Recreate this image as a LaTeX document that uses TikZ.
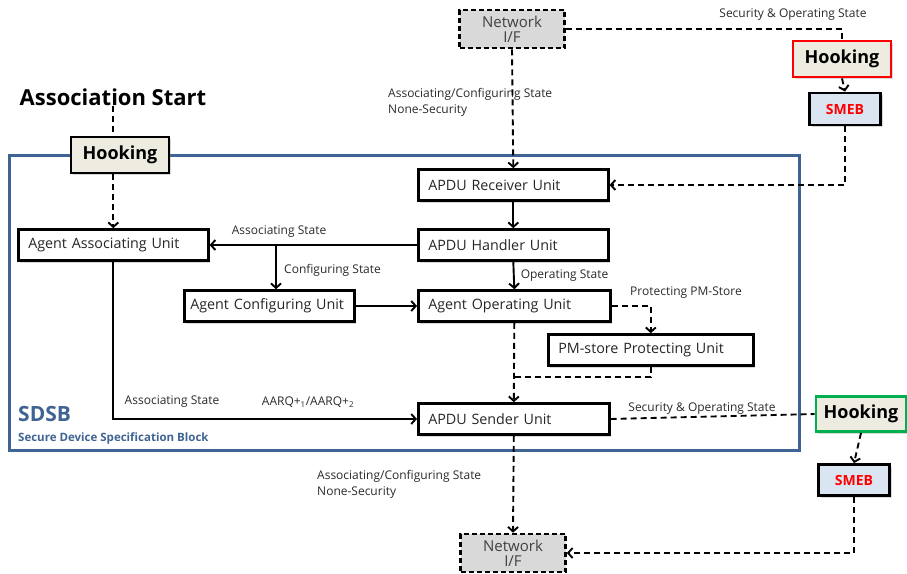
\documentclass[tikz,border=0pt]{standalone}
\usepackage{fontspec}
\setmainfont{Open Sans}
\usetikzlibrary{arrows.meta,shadows}
\definecolor{beige}{HTML}{EEECE1}
\definecolor{smebfill}{HTML}{DBE5F1}
\definecolor{netfill}{HTML}{D9D9D9}
\definecolor{framec}{HTML}{3F6393}
\definecolor{hookgreen}{HTML}{00B050}
\definecolor{labelc}{HTML}{2A2A2A}
\begin{document}
\begin{tikzpicture}[x=1pt,y=-1pt,
  shad/.style={drop shadow={opacity=0.3,shadow xshift=2pt,shadow yshift=-2pt}},
  unit/.style={draw=black,line width=2.6pt,fill=white,minimum height=31pt,inner xsep=10pt,inner ysep=0pt,
    align=left,anchor=west,font=\fontsize{14.3}{17}\selectfont,text=black!85,shad},
  net/.style={draw=black,line width=2.6pt,dash pattern=on 5pt off 3pt,fill=netfill,minimum width=105pt,minimum height=38pt,
    inner sep=0pt,align=center,font=\fontsize{15}{15}\selectfont,text=black!75},
  hook/.style={draw=black,line width=2.8pt,fill=beige,minimum width=98pt,minimum height=36pt,inner sep=0pt,
    font=\bfseries\fontsize{18}{21}\selectfont,shad},
  smeb/.style={draw=black,line width=2.8pt,fill=smebfill,minimum width=71pt,minimum height=32pt,inner sep=0pt,
    font=\bfseries\fontsize{14}{16}\selectfont,text=red,shad},
  lab/.style={font=\fontsize{12}{16}\selectfont,text=labelc,inner sep=0pt,align=left},
  conn/.style={line width=1.9pt,-{Straight Barb[length=4.5pt,width=10pt]}},
  dconn/.style={line width=1.9pt,dash pattern=on 6pt off 4pt,-{Straight Barb[length=4.5pt,width=10pt]}},
  dplain/.style={line width=1.9pt,dash pattern=on 6pt off 4pt},
  frame/.style={draw=framec,line width=3pt}]
\useasboundingbox (0,0) rectangle (907,573);

% SDSB frame
\draw[frame] (9,155) rectangle (799,450);
\node[anchor=west,inner sep=0pt,text=framec,font=\bfseries\fontsize{21}{24}\selectfont] (sdsb) at (18,414) {SDSB};
\node[anchor=west,inner sep=0pt,text=framec,font=\bfseries\fontsize{11.5}{12}\selectfont] (sdsbl) at (18,438) {Secure Device Specification Block};

% units
\node[unit,text width=170pt] (rx) at (417,185) {APDU Receiver Unit};
\node[unit,text width=170pt] (hd) at (417,245) {APDU Handler Unit};
\node[unit,text width=172pt] (op) at (417,306) {Agent Operating Unit};
\node[unit,text width=171pt] (sd) at (417,419) {APDU Sender Unit};
\node[unit,text width=170pt] (aa) at (17,245) {Agent Associating Unit};
\node[unit,text width=158pt,inner xsep=6pt] (cf) at (183,306) {\mbox{Agent Configuring Unit}};
\node[unit,text width=185pt] (pm) at (547,350) {PM-store Protecting Unit};

% network
\node[net] (nt) at (512,29) {Network\\I/F};
\node[net] (nb) at (513,553) {Network\\I/F};

% hooking / smeb
\node[hook,draw=red] (hr) at (842,59) {Hooking};
\node[smeb] (st) at (845,109) {SMEB};
\node[hook] (hb) at (120,155) {Hooking};
\node[hook,draw=hookgreen,minimum width=90pt,minimum height=35pt] (hg) at (861,414) {Hooking};
\node[smeb,minimum height=31pt] (sb) at (854,480) {SMEB};

% association start
\node[inner sep=0pt,font=\bfseries\fontsize{22}{24}\selectfont] (as) at (113,97) {Association Start};

% labels
\node[lab,anchor=north west] (l1) at (388,88) {Associating/Configuring State\\None-Security};
\node[lab,anchor=north west] (l2) at (317,470) {Associating/Configuring State\\None-Security};
\node[lab] (l3) at (793,15) {Security \& Operating State};
\node[lab] (l4) at (702,409) {Security \& Operating State};

% connectors
\draw[dconn] (nt.south) -- (rx.north);
\draw[dplain] (nt.east) -| (hr.north);
\draw[dconn] (hr.south) -- (st.north);
\draw[dconn] (st.south) |- (rx.east);

\draw[dplain] (as.south) -- (as.south |- hb.north);
\draw[dconn] (hb.south -| aa.north) -- (aa.north);

\draw[conn] (rx.south) -- (hd.north);
\draw[conn] (hd.south) -- node[lab,right=6pt] {Operating State} (op.north);
\draw[conn] (hd.west) -- (aa.east);
\node[lab] (lassoc) at (279,232) {Associating State};
\coordinate (br) at (276,245);
\draw[conn] (br) -- (br |- cf.north);
\node[lab,anchor=west] (lconf) at (284,270) {Configuring State};
\draw[conn] (cf.east) -- (op.west);

\draw[dconn] (op.east) -| (pm.north);
\node[lab] (lprot) at (686,293) {Protecting PM-Store};
\coordinate (j) at (512,377);
\draw[dplain] (pm.south) |- (j);
\draw[dconn] (op.south) -- (sd.north);

\draw[conn] (aa.south) |- (sd.west);
\node[lab] (lassoc2) at (172,402) {Associating State};
\node[lab] (aarq) at (308,402) {AARQ+\textsubscript{1}/AARQ+\textsubscript{2}};

\draw[dplain] (sd.east) -- (hg.west);
\draw[dconn] (hg.south) -- (sb.north);
\draw[dconn] (sb.south) |- (nb.east);
\draw[dconn] (sd.south) -- (nb.north);
\end{tikzpicture}
\end{document}
